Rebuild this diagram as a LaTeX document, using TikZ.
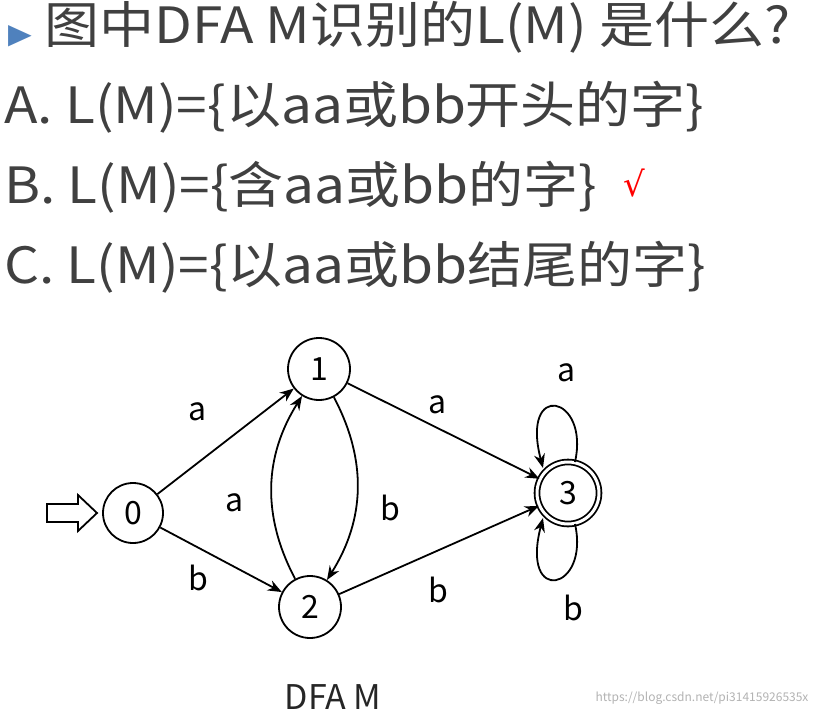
\documentclass[tikz,border=0pt]{standalone}
\usepackage{fontspec}
\setmainfont{Noto Sans CJK SC}
\newfontfamily\symf{DejaVu Sans}
\usetikzlibrary{arrows.meta}
\begin{document}
\begin{tikzpicture}[x=1pt,y=-1pt,
  st/.style={circle,draw,line width=1.8pt,minimum size=60pt,inner sep=0pt,font=\fontsize{32}{32}\selectfont},
  ed/.style={line width=1.8pt,-{Stealth[length=14pt,width=11pt]}},
  lb/.style={font=\fontsize{32}{32}\selectfont},
  big/.style={anchor=west,font=\fontsize{50}{50}\selectfont,text=black!75,inner sep=0pt}]
\useasboundingbox (0,0) rectangle (814,718);
\node[text=black!75,anchor=west,inner sep=0pt,font=\fontsize{50}{50}\selectfont,xscale=1.1] (t) at (8,27) {\textcolor[RGB]{79,129,189}{\symf\fontsize{28}{28}\selectfont ▶} 图中DFA M识别的L(M) 是什么?};
\node[big,xscale=1.1] (la) at (4,107) {A. L(M)=\{以aa或bb开头的字\}};
\node[big,xscale=1.1] (lbb) at (4,187) {B. L(M)=\{含aa或bb的字\}};
\node[text=red,font=\symf\fontsize{34}{34}\selectfont] (ck) at (634,183) {√};
\node[big,xscale=1.1] (lc) at (4,267) {C. L(M)=\{以aa或bb结尾的字\}};
\node[st] (s0) at (133,513) {0};
\node[st,minimum size=62pt] (s1) at (319,369) {1};
\node[st,minimum size=62pt] (s2) at (310,607) {2};
\node[st,double,double distance=3pt,minimum size=62pt] (s3) at (568,493) {3};
\draw[line width=1.8pt] (47,504)--(78,504)--(78,495)--(97,513)--(78,531)--(78,522)--(47,522)--cycle;
\draw[ed] (s0)--(s1);
\draw[ed] (s0)--(s2);
\draw[ed] (s1)--(s3);
\draw[ed] (s2)--(s3);
\draw[ed] (s1) to[bend left=30] (s2);
\draw[ed] (s2) to[bend left=30] (s1);
\coordinate (lt1) at (575,462);
\coordinate (lt2) at (543,468);
\coordinate (lb1) at (575,524);
\coordinate (lb2) at (543,518);
\draw[ed] (lt1) .. controls (590,395) and (520,380) .. (lt2);
\draw[ed] (lb1) .. controls (590,591) and (520,606) .. (lb2);
\node[lb] (l1) at (198,412) {a};
\node[lb] (l2) at (198,578) {b};
\node[lb] (l3) at (438,405) {a};
\node[lb] (l4) at (438,590) {b};
\node[lb] (l5) at (235,503) {a};
\node[lb] (l6) at (390,508) {b};
\node[lb] (l7) at (567,373) {a};
\node[lb] (l8) at (573,608) {b};
\node[font=\fontsize{34}{34}\selectfont,text=black!85] (cap) at (333,697) {DFA M};
\node[font=\fontsize{12}{12}\selectfont,text=black!30,anchor=east] (wm) at (812,698) {https://blog.csdn.net/pi31415926535x};
\end{tikzpicture}
\end{document}
